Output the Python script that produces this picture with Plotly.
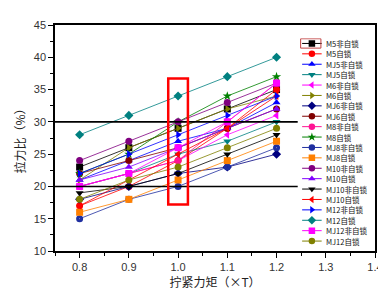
import plotly.graph_objects as go

# ---------------- data ----------------
torque = [0.8, 0.9, 1.0, 1.1, 1.2]

names = ["M5非自锁", "M5自锁", "MJ5非自锁", "MJ5自锁", "M6非自锁", "M6自锁",
         "MJ6非自锁", "MJ6自锁", "M8非自锁", "M8自锁", "MJ8非自锁", "MJ8自锁",
         "M10非自锁", "M10自锁", "MJ10非自锁", "MJ10自锁", "M12非自锁", "M12自锁",
         "MJ12非自锁", "MJ12自锁"]

M5_unlocked   = [23, 26, 29, 32, 35]
M5_locked     = [17, 20, 24, 29, 35]
MJ5_unlocked  = [21, 24, 27, 29, 33]
MJ5_locked    = [20, 22, 25, 27, 30]
M6_unlocked   = [20, 22, 24, 28, 31]
M6_locked     = [21, 26, 29, 32, 34]
MJ6_unlocked  = [18, 20, 22, 23, 25]
MJ6_locked    = [22, 24, 26, 29, 32]
M8_unlocked   = [20, 22, 24, 30, 36]
M8_locked     = [22, 25, 30, 34, 37]
MJ8_unlocked  = [15, 18, 20, 23, 26]
MJ8_locked    = [16, 18, 21, 24, 27]
M10_unlocked  = [24, 27, 30, 33, 36]
M10_locked    = [21, 23, 26, 29, 32]
MJ10_unlocked = [19, 20, 22, 25, 28]
MJ10_locked   = [17, 21, 25, 29, 34]
M12_unlocked  = [22, 25, 28, 31, 34]
M12_locked    = [28, 31, 34, 37, 40]
MJ12_unlocked = [20, 22, 26, 30, 36]
MJ12_locked   = [18, 21, 23, 26, 29]

values = [M5_unlocked, M5_locked, MJ5_unlocked, MJ5_locked, M6_unlocked, M6_locked,
          MJ6_unlocked, MJ6_locked, M8_unlocked, M8_locked, MJ8_unlocked, MJ8_locked,
          M10_unlocked, M10_locked, MJ10_unlocked, MJ10_locked, M12_unlocked, M12_locked,
          MJ12_unlocked, MJ12_locked]

ref_levels = [20, 30]          # horizontal reference lines
highlight_x = 1.0              # highlighted torque column

# ---------------- styles ----------------
colors = ["#000000", "#FF0000", "#0000FF", "#008080", "#FF00FF", "#808000",
          "#000080", "#800000", "#FF1493", "#008000", "#1F2FA0", "#FF8000",
          "#800080", "#8000FF", "#000000", "#FF0000", "#0000FF", "#008080",
          "#FF00FF", "#808000"]
symbols = ["square", "circle", "triangle-up", "triangle-down", "triangle-left",
           "triangle-right", "diamond", "circle", "circle", "star",
           "circle-dot", "square", "circle", "triangle-up", "triangle-down",
           "triangle-left", "triangle-right", "diamond", "square", "circle"]

fig = go.Figure()

for nm, v, c, s in zip(names, values, colors, symbols):
    fig.add_trace(go.Scatter(
        x=torque, y=v, mode="lines+markers", name=nm,
        line=dict(color=c, width=0.8),
        marker=dict(symbol=s, color=c, size=7, line=dict(width=0)),
        showlegend=False))

# ---------------- custom compact legend ----------------
n = len(names)
for i, (nm, c, s) in enumerate(zip(names, colors, symbols)):
    fig.add_trace(go.Scatter(
        x=[0.03, 0.29], y=[i, i], mode="lines", xaxis="x2", yaxis="y2",
        line=dict(color=c, width=1), showlegend=False, hoverinfo="skip"))
    fig.add_trace(go.Scatter(
        x=[0.16], y=[i], mode="markers", xaxis="x2", yaxis="y2",
        marker=dict(symbol=s, color=c, size=6.5, line=dict(width=0)),
        showlegend=False, hoverinfo="skip"))
    fig.add_annotation(x=0.33, y=i, xref="x2", yref="y2", text=nm,
                       showarrow=False, xanchor="left", yanchor="middle",
                       borderpad=0,
                       font=dict(family="Noto Sans CJK SC", size=7.5, color="#111"))

# selection box around first legend symbol
fig.add_shape(type="rect", xref="x2", yref="y2", x0=0.01, x1=0.28, y0=-0.45, y1=0.45,
              line=dict(color="#C04040", width=1))

# ---------------- reference lines & highlight ----------------
for lv in ref_levels:
    fig.add_shape(type="line", xref="x", yref="y", x0=0.75, x1=1.243, y0=lv, y1=lv,
                  line=dict(color="#000000", width=1.6))
fig.add_shape(type="rect", xref="x", yref="y",
              x0=highlight_x - 0.02, x1=highlight_x + 0.02, y0=17.2, y1=36.7,
              line=dict(color="#FF0000", width=2.5))

tickfont = dict(family="Liberation Sans, Arial", size=11, color="#333333")
fig.update_layout(
    width=386, height=290,
    margin=dict(l=47, r=11, t=11, b=40),
    paper_bgcolor="white", plot_bgcolor="white",
    xaxis=dict(range=[0.75, 1.4], tickvals=[0.8, 0.9, 1.0, 1.1, 1.2, 1.3, 1.4],
               ticktext=["0.8", "0.9", "1.0", "1.1", "1.2", "1.3", "1.4"],
               showgrid=False, zeroline=False, showline=True, linecolor="black",
               linewidth=1.5, mirror=True, ticks="outside", ticklen=5,
               tickcolor="black", tickfont=tickfont,
               minor=dict(dtick=0.05, ticks="outside", ticklen=3, tickcolor="black"),
               title=dict(text="拧紧力矩（×T）",
                          font=dict(family="Noto Sans CJK SC", size=12, color="#222"),
                          standoff=6)),
    yaxis=dict(range=[10, 45], dtick=5, showgrid=False, zeroline=False,
               showline=True, linecolor="black", linewidth=1.5, mirror=True,
               ticks="outside", ticklen=5, tickcolor="black", tickfont=tickfont,
               minor=dict(dtick=2.5, ticks="outside", ticklen=3, tickcolor="black"),
               title=dict(text="拉力比（%）",
                          font=dict(family="Noto Sans CJK SC", size=12, color="#222"),
                          standoff=6)),
    xaxis2=dict(domain=[(298 - 47) / 328, (375 - 47) / 328], range=[0, 1],
                anchor="y2", visible=False, fixedrange=True),
    yaxis2=dict(domain=[1 - (245 - 11) / 239, 1 - (25 - 11) / 239],
                range=[n - 0.5, -0.5], anchor="x2", visible=False, fixedrange=True),
)

fig.write_html("out.html")
